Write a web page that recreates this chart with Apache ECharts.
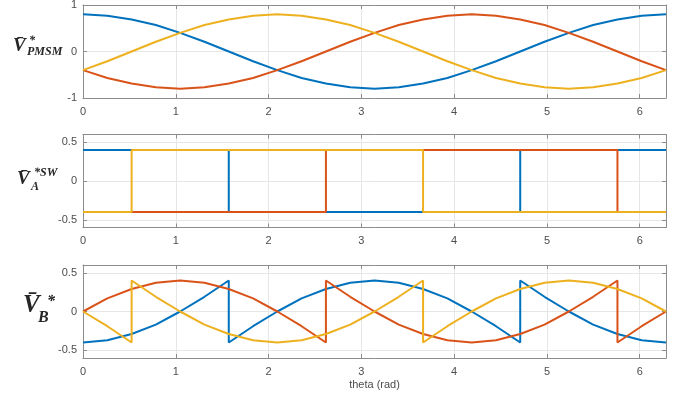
<!DOCTYPE html>
<html>
<head>
<meta charset="utf-8">
<script src="https://cdn.jsdelivr.net/npm/echarts@6/dist/echarts.min.js"></script>
<style>
  html, body { margin: 0; padding: 0; background: #fff; }
  #chart { width: 686px; height: 398px; }
</style>
</head>
<body>
<div id="chart"></div>
<script>
// theta grid, step pi/12
var theta = [0, 0.262, 0.524, 0.785, 1.047, 1.309, 1.571, 1.833, 2.094, 2.356, 2.618, 2.880, 3.142,
  3.403, 3.665, 3.927, 4.189, 4.451, 4.712, 4.974, 5.236, 5.498, 5.760, 6.021, 6.283];
var xTicks = [0, 1, 2, 3, 4, 5, 6];
var yTicksPmsm = [-1, 0, 1];
var yTicksSw = [-0.5, 0, 0.5];

// panel 1 : V_PMSM
var pmsmBlue = [0.80, 0.77, 0.69, 0.57, 0.40, 0.21, 0.00, -0.21, -0.40, -0.57, -0.69, -0.77, -0.80,
  -0.77, -0.69, -0.57, -0.40, -0.21, 0.00, 0.21, 0.40, 0.57, 0.69, 0.77, 0.80];
var pmsmRed = [-0.40, -0.57, -0.69, -0.77, -0.80, -0.77, -0.69, -0.57, -0.40, -0.21, 0.00, 0.21, 0.40,
  0.57, 0.69, 0.77, 0.80, 0.77, 0.69, 0.57, 0.40, 0.21, 0.00, -0.21, -0.40];
var pmsmYellow = [-0.40, -0.21, 0.00, 0.21, 0.40, 0.57, 0.69, 0.77, 0.80, 0.77, 0.69, 0.57, 0.40,
  0.21, 0.00, -0.21, -0.40, -0.57, -0.69, -0.77, -0.80, -0.77, -0.69, -0.57, -0.40];

// panel 2 : V_A switching (value before the jump, then [index, value after])
var swBlue = [0.4, 0.4, 0.4, 0.4, 0.4, 0.4, 0.4, -0.4, -0.4, -0.4, -0.4, -0.4, -0.4,
  -0.4, -0.4, -0.4, -0.4, -0.4, -0.4, 0.4, 0.4, 0.4, 0.4, 0.4, 0.4];
var swBlueJumps = [[6, -0.4], [18, 0.4]];
var swRed = [-0.4, -0.4, -0.4, -0.4, -0.4, -0.4, -0.4, -0.4, -0.4, -0.4, -0.4, 0.4, 0.4,
  0.4, 0.4, 0.4, 0.4, 0.4, 0.4, 0.4, 0.4, 0.4, 0.4, -0.4, -0.4];
var swRedJumps = [[10, 0.4], [22, -0.4]];
var swYellow = [-0.4, -0.4, -0.4, 0.4, 0.4, 0.4, 0.4, 0.4, 0.4, 0.4, 0.4, 0.4, 0.4,
  0.4, 0.4, -0.4, -0.4, -0.4, -0.4, -0.4, -0.4, -0.4, -0.4, -0.4, -0.4];
var swYellowJumps = [[2, 0.4], [14, -0.4]];

// panel 3 : V_B
var bBlue = [-0.40, -0.37, -0.29, -0.17, 0.00, 0.19, 0.40, -0.19, 0.00, 0.17, 0.29, 0.37, 0.40,
  0.37, 0.29, 0.17, 0.00, -0.19, -0.40, 0.19, 0.00, -0.17, -0.29, -0.37, -0.40];
var bBlueJumps = [[6, -0.40], [18, 0.40]];
var bRed = [0.00, 0.17, 0.29, 0.37, 0.40, 0.37, 0.29, 0.17, 0.00, -0.19, -0.40, 0.19, 0.00,
  -0.17, -0.29, -0.37, -0.40, -0.37, -0.29, -0.17, 0.00, 0.19, 0.40, -0.19, 0.00];
var bRedJumps = [[10, 0.40], [22, -0.40]];
var bYellow = [0.00, -0.19, -0.40, 0.19, 0.00, -0.17, -0.29, -0.37, -0.40, -0.37, -0.29, -0.17, 0.00,
  0.19, 0.40, -0.19, 0.00, 0.17, 0.29, 0.37, 0.40, 0.37, 0.29, 0.17, 0.00];
var bYellowJumps = [[2, 0.40], [14, -0.40]];

var BLUE = "#0072BD", RED = "#D95319", YELLOW = "#EDB120";
var FRAME = "#8c8c8c";
var tickFont = { color: "#4d4d4d", fontSize: 11, fontFamily: "Liberation Sans, Arial, sans-serif" };

function toPoints(vals, jumps) {
  var out = [];
  vals.forEach(function(v, k) {
    out.push([theta[k], v]);
    (jumps || []).forEach(function(j) {
      if (j[0] === k) out.push([theta[k], j[1]]);
    });
  });
  return out;
}

var grids = [
  { left: 83, top: 5, width: 583, height: 93 },
  { left: 83, top: 134.5, width: 583, height: 93 },
  { left: 83, top: 265, width: 583, height: 93 }
];

var xAxes = [], yAxes = [];
grids.forEach(function(g, i) {
  var yMin = i === 0 ? -1 : -0.6, yMax = i === 0 ? 1 : 0.6;
  var yTicks = i === 0 ? yTicksPmsm : yTicksSw;
  // bottom / top
  [false, true].forEach(function(isTop) {
    xAxes.push({
      type: "value", gridIndex: i, min: 0, max: 2 * Math.PI,
      position: isTop ? "top" : "bottom",
      axisLine: { show: true, onZero: false, lineStyle: { color: FRAME, width: 1 } },
      axisTick: { show: true, inside: true, length: 4, customValues: xTicks, lineStyle: { color: FRAME } },
      axisLabel: isTop ? { show: false, customValues: xTicks } :
        Object.assign({ show: true, margin: 8, customValues: xTicks }, tickFont),
      splitLine: { show: !isTop, lineStyle: { color: "#e6e6e6", width: 1 } },
      name: (i === 2 && !isTop) ? "theta (rad)" : "",
      nameLocation: "middle", nameGap: 21,
      nameTextStyle: tickFont
    });
  });
  // left / right
  [false, true].forEach(function(isRight) {
    yAxes.push({
      type: "value", gridIndex: i, min: yMin, max: yMax,
      position: isRight ? "right" : "left",
      axisLine: { show: true, onZero: false, lineStyle: { color: FRAME, width: 1 } },
      axisTick: { show: true, inside: true, length: 4, customValues: yTicks, lineStyle: { color: FRAME } },
      axisLabel: isRight ? { show: false, customValues: yTicks } :
        Object.assign({ show: true, margin: 6, customValues: yTicks }, tickFont),
      splitLine: { show: !isRight, lineStyle: { color: "#e6e6e6", width: 1 } }
    });
  });
});

function line(data, color, panel) {
  return {
    type: "line", data: data, xAxisIndex: panel * 2, yAxisIndex: panel * 2,
    symbol: "none", lineStyle: { color: color, width: 2 }, itemStyle: { color: color },
    animation: false, silent: true
  };
}

var series = [
  line(toPoints(pmsmBlue), BLUE, 0),
  line(toPoints(pmsmRed), RED, 0),
  line(toPoints(pmsmYellow), YELLOW, 0),
  line(toPoints(swBlue, swBlueJumps), BLUE, 1),
  line(toPoints(swRed, swRedJumps), RED, 1),
  line(toPoints(swYellow, swYellowJumps), YELLOW, 1),
  line(toPoints(bBlue, bBlueJumps), BLUE, 2),
  line(toPoints(bRed, bRedJumps), RED, 2),
  line(toPoints(bYellow, bYellowJumps), YELLOW, 2)
];

// y axis titles (math style)
var serif = "'Liberation Serif', 'Times New Roman', serif";
function label(text, x, y, size) {
  return {
    type: "text", left: x, top: y,
    style: { text: text, fill: "#262626", font: "italic bold " + size + "px " + serif }
  };
}

var option = {
  backgroundColor: "#fff",
  animation: false,
  grid: grids.map(function(g) { return Object.assign({ containLabel: false, outerBoundsMode: "none" }, g); }),
  xAxis: xAxes,
  yAxis: yAxes,
  series: series,
  graphic: [
    label("V\u0304", 13, 37, 19),
    label("*", 29, 35, 12),
    label("PMSM", 27, 46, 12),
    label("V\u0304", 17, 170, 19),
    label("A", 31, 181, 12),
    label("*SW", 34, 167, 12),
    label("V\u0304", 23, 293, 25),
    label("B", 38, 310, 16),
    label("*", 47, 294, 16)
  ]
};

var chart = echarts.init(document.getElementById("chart"));
chart.setOption(option);
</script>
</body>
</html>
